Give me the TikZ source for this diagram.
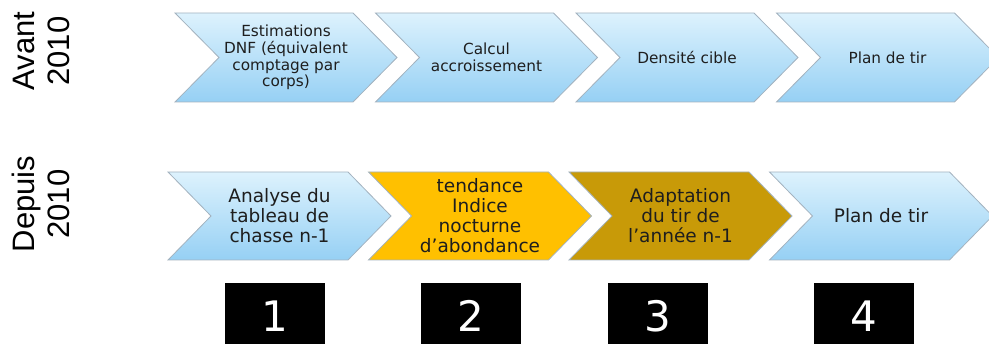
\documentclass[tikz,border=0pt]{standalone}
\usepackage{fontspec}
\setmainfont{DejaVu Sans}
\newfontfamily\labfont{Liberation Sans}
\definecolor{bluetop}{HTML}{DDF2FD}
\definecolor{bluebot}{HTML}{96D0F4}
\definecolor{chevline}{HTML}{A3B2BF}
\definecolor{orangefill}{HTML}{FFC000}
\definecolor{goldfill}{HTML}{C89A08}
\definecolor{txt}{HTML}{1E1E1E}
\tikzset{
  bluechev/.style={draw=chevline, line width=0.8pt, top color=bluetop, bottom color=bluebot},
  orangechev/.style={draw=chevline, line width=0.8pt, fill=orangefill},
  goldchev/.style={draw=chevline, line width=0.8pt, fill=goldfill},
  toptext/.style={align=center, text=txt, font=\fontsize{15.3}{16.6}\selectfont, inner sep=0pt},
  bottext/.style={align=center, text=txt, font=\fontsize{18.5}{20}\selectfont, inner sep=0pt},
  numbox/.style={fill=black, text=white, minimum width=100, minimum height=66, inner sep=0pt, font=\fontsize{42}{46}\selectfont},
  rowlabel/.style={rotate=90, align=center, text=black, font=\labfont\fontsize{31}{35}\selectfont, inner sep=0pt}
}
% #1 name, #2 x0, #3 ytop, #4 ybot, #5 body width, #6 depth, #7 style
\newcommand\chev[7]{%
  \pgfmathsetmacro\cxb{#2+#5}%
  \pgfmathsetmacro\cxt{#2+#5+#6}%
  \pgfmathsetmacro\cxn{#2+#6}%
  \pgfmathsetmacro\cym{(#3+#4)/2}%
  \pgfmathsetmacro\cxm{#2+(#5+#6)/2}%
  \path[#7] (#2,#3) -- (\cxb,#3) -- (\cxt,\cym) -- (\cxb,#4) -- (#2,#4) -- (\cxn,\cym) -- cycle;
  \coordinate (#1) at (\cxm,\cym);
}
\begin{document}
\begin{tikzpicture}[x=1pt,y=-1pt]
\useasboundingbox (0,0) rectangle (989,344);
% row labels
\node[rowlabel] (avant) at (41,51) {Avant\\2010};
\node[rowlabel] (depuis) at (41,204) {Depuis\\2010};
% top row
\chev{a1}{175}{13}{102}{178}{44}{bluechev}
\chev{a2}{375.5}{13}{102}{178}{44}{bluechev}
\chev{a3}{576}{13}{102}{178}{44}{bluechev}
\chev{a4}{776.5}{13}{102}{178}{44}{bluechev}
\node[toptext] (ta1) at (a1) {Estimations\\DNF (équivalent\\comptage par\\corps)};
\node[toptext] (ta2) at (a2) {Calcul\\accroissement};
\node[toptext] (ta3) at (a3) {Densité cible};
\node[toptext] (ta4) at (a4) {Plan de tir};
% bottom row
\chev{b1}{168}{172}{260}{180}{43}{bluechev}
\chev{b2}{368.5}{172}{260}{180}{43}{orangechev}
\chev{b3}{569}{172}{260}{180}{43}{goldchev}
\chev{b4}{769.5}{172}{260}{180}{43}{bluechev}
\node[bottext] (tb1) at (b1) {Analyse du\\tableau de\\chasse n-1};
\node[bottext] (tb2) at (b2) {tendance\\Indice\\nocturne\\d’abondance};
\node[bottext] (tb3) at (b3) {Adaptation\\du tir de\\l’année n-1};
\node[bottext] (tb4) at (b4) {Plan de tir};
% number boxes
\node[numbox] (n1) at (275,316) {1};
\node[numbox] (n2) at (471,316) {2};
\node[numbox] (n3) at (657.5,316) {3};
\node[numbox] (n4) at (863.5,316) {4};
\end{tikzpicture}
\end{document}
